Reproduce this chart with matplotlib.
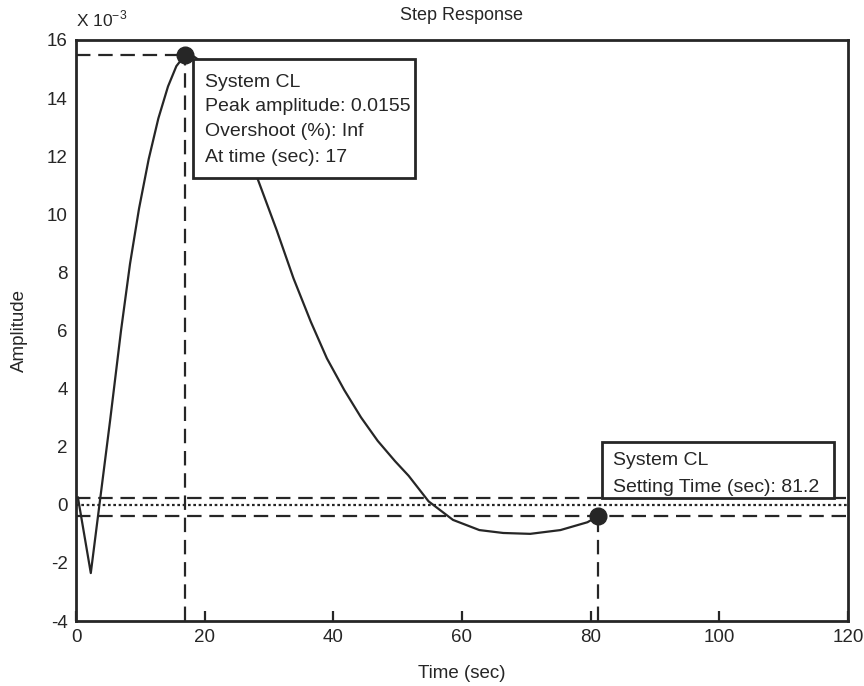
import numpy as np
import matplotlib.pyplot as plt
from matplotlib.patches import Rectangle

plt.rcParams['font.family'] = ['Liberation Sans', 'DejaVu Sans']
plt.rcParams['axes.unicode_minus'] = False

# step response, amplitude in units of 1e-3
t = [0.3, 2.3, 5.3, 7.0, 8.4, 9.8, 11.3, 12.8, 14.3, 15.6, 17.0, 18.2, 19.5, 22.0, 25.0,
     28.3, 31.2, 33.8, 36.5, 39.0, 41.7, 44.3, 46.9, 49.6, 51.7, 54.8, 58.6,
     62.7, 66.4, 70.6, 75.3, 79.5, 81.2]
amp = [0.25, -2.35, 2.9, 6.0, 8.3, 10.2, 11.9, 13.3, 14.4, 15.1, 15.5, 15.45, 15.25, 14.4, 13.0,
       11.18, 9.45, 7.80, 6.30, 5.04, 3.95, 3.01, 2.20, 1.50, 1.00, 0.12, -0.52,
       -0.87, -0.97, -1.0, -0.87, -0.60, -0.38]

peak_t, peak_amp = 17.0, 15.5
settle_t, settle_amp = 81.2, -0.38
final_value = 0.0
band_hi, band_lo = 0.25, -0.38

xticks = [0, 20, 40, 60, 80, 100, 120]
yticks = [-4, -2, 0, 2, 4, 6, 8, 10, 12, 14, 16]

peak_text = ["System CL", "Peak amplitude: 0.0155", "Overshoot (%): Inf", "At time (sec): 17"]
settle_text = ["System CL", "Setting Time (sec): 81.2"]

ink = '#262626'
dash = (0, (6.5, 3.5))

fig = plt.figure(figsize=(8.64, 6.86), dpi=100)
ax = fig.add_axes([76 / 864, 65 / 686, 772 / 864, 581 / 686])

# reference lines
ax.axhline(final_value, color=ink, lw=1.6, ls=(0, (1.2, 1.2)), zorder=2)
ax.axhline(band_hi, color=ink, lw=1.6, ls=dash, zorder=2)
ax.axhline(band_lo, color=ink, lw=1.6, ls=dash, zorder=2)
ax.plot([0, peak_t], [peak_amp, peak_amp], color=ink, lw=1.6, ls=dash, zorder=2)
ax.plot([peak_t, peak_t], [-4, peak_amp], color=ink, lw=1.6, ls=dash, zorder=2)
ax.plot([settle_t, settle_t], [-4, settle_amp], color=ink, lw=1.6, ls=dash, zorder=2)

ax.plot(t, amp, color=ink, lw=1.6, zorder=3)
ax.plot([peak_t, settle_t], [peak_amp, settle_amp], 'o', color=ink, ms=12, zorder=4)

# data tip boxes
def tip(x0, y0, x1, y1, tx, lines, ys):
    ax.add_patch(Rectangle((x0, y0), x1 - x0, y1 - y0, transform=ax.transAxes,
                           facecolor='white', edgecolor=ink, lw=2, zorder=5, clip_on=False))
    for s, yy in zip(lines, ys):
        ax.text(tx, yy, s, transform=ax.transAxes, fontsize=14, color=ink,
                va='center', ha='left', zorder=6)

tip(0.1516, 0.7625, 0.4391, 0.9673, 0.167, peak_text, [0.926, 0.8847, 0.8417, 0.7986])
tip(0.6813, 0.2117, 0.9819, 0.3081, 0.6956, settle_text, [0.2754, 0.2306])

ax.set_xlim(0, 120)
ax.set_ylim(-4, 16)
ax.set_xticks(xticks)
ax.set_yticks(yticks)
ax.tick_params(axis='x', direction='in', length=7, width=1.6, pad=6, labelsize=13.5, colors=ink)
ax.tick_params(axis='y', length=0, pad=6, labelsize=13.5, colors=ink)
for sp in ax.spines.values():
    sp.set_linewidth(2)
    sp.set_color(ink)

ax.set_xlabel('Time (sec)', fontsize=13.5, color=ink)
ax.xaxis.set_label_coords(0.5, -0.0757)
ax.set_ylabel('Amplitude', fontsize=13.5, color=ink)
ax.yaxis.set_label_coords(-0.062, 0.5)
ax.set_title('Step Response', fontsize=13, color=ink, pad=14.5)
fig.text(76 / 864, 1 - 26 / 686, r'X 10$^{\mathregular{-3}}$', fontsize=12.5, color=ink,
         va='baseline', ha='left')

fig.savefig('out.png', dpi=100)
